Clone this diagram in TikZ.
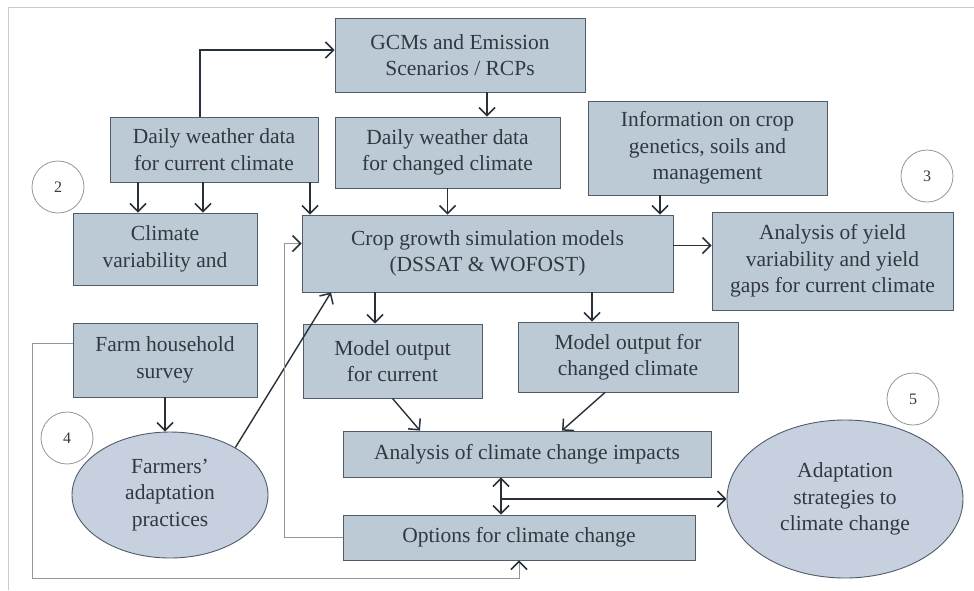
\documentclass[tikz,border=0pt]{standalone}
\usepackage{fontspec}
\setmainfont{Liberation Serif}
\usetikzlibrary{arrows.meta,shapes.geometric,calc}
\definecolor{boxfill}{RGB}{188,202,214}
\definecolor{ovalfill}{RGB}{198,208,222}
\definecolor{boxline}{RGB}{80,92,106}
\definecolor{txt}{RGB}{50,56,66}
\definecolor{arrcol}{RGB}{40,48,58}
\definecolor{fbcol}{RGB}{150,150,150}
\definecolor{framecol}{RGB}{200,204,208}
\newcommand{\bfs}{\rmfamily\fontsize{21.5}{26.5}\selectfont}
\tikzset{
  box/.style={draw=boxline, fill=boxfill, line width=0.9pt, align=center, inner sep=0pt, font=\bfs, text=txt},
  oval/.style={ellipse, draw=boxline, fill=ovalfill, line width=0.9pt, align=center, inner sep=0pt, font=\bfs, text=txt},
  num/.style={circle, draw=fbcol, line width=0.8pt, minimum size=52pt, inner sep=0pt, font=\rmfamily\fontsize{16}{18}\selectfont, text=txt},
  arr/.style={-{Straight Barb[length=8pt,width=16pt,line width=1.5pt]}, line width=1.4pt, draw=arrcol},
  fb/.style={draw=fbcol, line width=0.9pt},
  fbarr/.style={fb, -{Straight Barb[length=8pt,width=16pt,line width=1.5pt,color=arrcol]}},
  framel/.style={draw=framecol, line width=1pt}
}
\begin{document}
\begin{tikzpicture}[x=1pt,y=-1pt]
\useasboundingbox (0,0) rectangle (974,590);
\fill[white] (0,0) rectangle (974,590);
% frame
\coordinate (ftl) at (8,7);
\coordinate (ftr) at (974,7);
\coordinate (fbl) at (8,590);
\draw[framel] (ftr) -- (ftl) -- (fbl);

% boxes
\node[box, minimum width=250pt, minimum height=74pt] (gcm) at (460,55) {GCMs and Emission\\Scenarios / RCPs};
\node[box, minimum width=208pt, minimum height=65pt] (dwc) at (214,149.5) {Daily weather data\\for current climate};
\node[box, minimum width=225pt, minimum height=71pt] (dwch) at (447.5,152.5) {Daily weather data\\for changed climate};
\node[box, minimum width=239pt, minimum height=94pt] (info) at (707.5,148) {Information on crop\\genetics, soils and\\management};
\node[box, minimum width=184pt, minimum height=72pt] (cv) at (165,249) {Climate\\variability and};
\node[box, minimum width=371pt, minimum height=77pt] (crop) at (487.5,253.5) {Crop growth simulation models\\(DSSAT \& WOFOST)};
\node[box, minimum width=241pt, minimum height=98pt] (ayield) at (832.5,261) {Analysis of yield\\variability and yield\\gaps for current climate};
\node[box, minimum width=184pt, minimum height=74pt] (farm) at (165,360) {Farm household\\survey};
\node[box, minimum width=179pt, minimum height=74pt] (mcur) at (392.5,361) {Model output\\for current};
\node[box, minimum width=220pt, minimum height=70pt] (mch) at (628,357) {Model output for\\changed climate};
\node[box, minimum width=368pt, minimum height=46pt] (acc) at (527,454) {Analysis of climate change impacts};
\node[box, minimum width=352pt, minimum height=45pt] (opt) at (519,537.5) {Options for climate change};
\node[oval, minimum width=196pt, minimum height=126pt] (farmers) at (170,495) {Farmers'\\adaptation\\practices};
\node[oval, minimum width=236pt, minimum height=158pt] (adapt) at (845,499) {Adaptation\\strategies to\\climate change};

% numbered circles
\node[num] (c2) at (58,187) {2};
\node[num] (c3) at (927,176) {3};
\node[num] (c4) at (67,438) {4};
\node[num] (c5) at (913,399) {5};

% arrows
\draw[arr] ([xshift=-14pt]dwc.north) |- ([yshift=5pt]gcm.west);
\draw[arr] ([xshift=27pt]gcm.south) -- ([xshift=27pt]gcm.south |- dwch.north);
\draw[arr] ([xshift=-76pt]dwc.south) -- ([xshift=-76pt]dwc.south |- cv.north);
\draw[arr] ([xshift=-11pt]dwc.south) -- ([xshift=-11pt]dwc.south |- cv.north);
\draw[arr] ([xshift=96pt]dwc.south) -- ([xshift=96pt]dwc.south |- crop.north);
\draw[arr] (dwch.south) -- (dwch.south |- crop.north);
\draw[arr] ([xshift=-47.5pt]info.south) -- ([xshift=-47.5pt]info.south |- crop.north);
\draw[arr] ([yshift=8pt]crop.east) -- ([yshift=8pt]crop.east -| ayield.west);
\draw[arr] ([xshift=-112.5pt]crop.south) -- ([xshift=-112.5pt]crop.south |- mcur.north);
\draw[arr] ([xshift=104.5pt]crop.south) -- ([xshift=104.5pt]crop.south |- mch.north);
\draw[arr] (farm.south) -- (farm.south |- farmers.north);
\draw[arr] (farmers.36) -- ([xshift=-156.5pt]crop.south);
\draw[arr] (mcur.south) -- ([xshift=-107pt]acc.north);
\draw[arr] ([xshift=-23pt]mch.south) -- ([xshift=35pt]acc.north);
\coordinate (dj) at ([xshift=-26pt]acc.south);
\draw[arr, {Straight Barb[length=8pt,width=16pt,line width=1.5pt]}-{Straight Barb[length=8pt,width=16pt,line width=1.5pt]}] (dj) -- (dj |- opt.north);
\draw[arr] (dj |- adapt.west) -- (adapt.west);

% feedback lines
\coordinate (fbx) at (284,0);
\draw[fbarr] (opt.west) -| ([yshift=10pt]crop.west -| fbx) -- ([yshift=10pt]crop.west);
\coordinate (fbb) at (32,578);
\draw[fbarr] ([yshift=17pt]farm.west) -| (fbb) -| (opt.south);
\end{tikzpicture}
\end{document}
